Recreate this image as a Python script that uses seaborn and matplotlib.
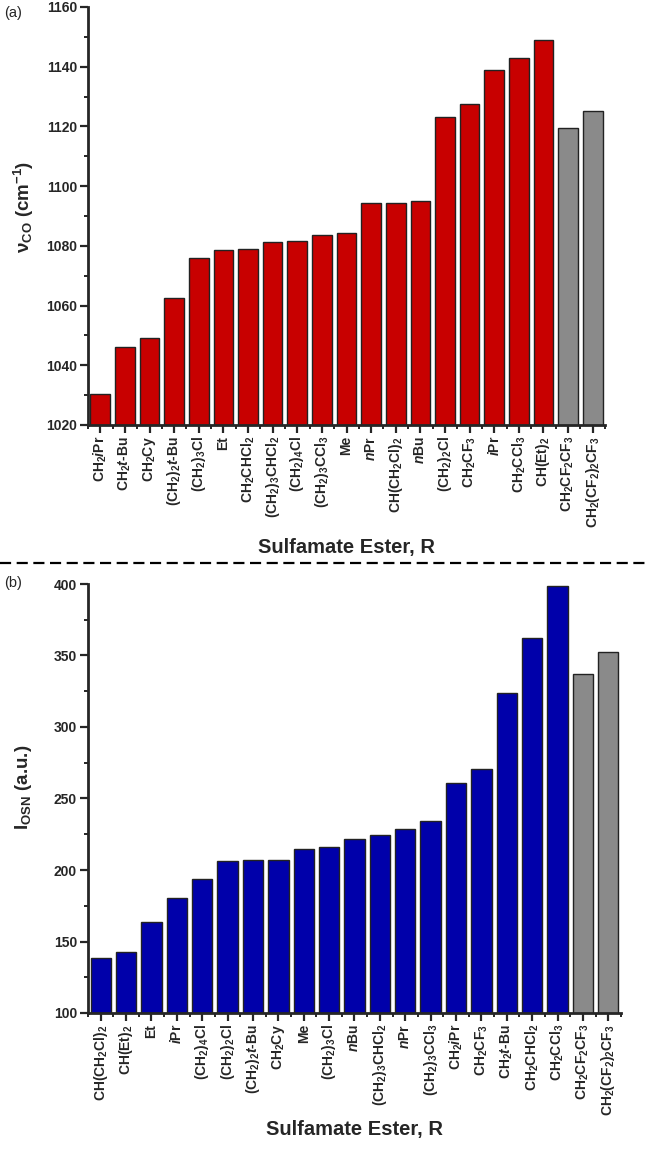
import numpy as np
import matplotlib
matplotlib.use("Agg")
import matplotlib.pyplot as plt
from matplotlib.lines import Line2D
from matplotlib.ticker import MultipleLocator, FixedLocator
import seaborn as sns

# data
top_labels = [r"CH$_2$$i$Pr", r"CH$_2$$t$-Bu", r"CH$_2$Cy", r"(CH$_2$)$_2$$t$-Bu",
              r"(CH$_2$)$_3$Cl", "Et", r"CH$_2$CHCl$_2$", r"(CH$_2$)$_3$CHCl$_2$",
              r"(CH$_2$)$_4$Cl", r"(CH$_2$)$_3$CCl$_3$", "Me", r"$n$Pr",
              r"CH(CH$_2$Cl)$_2$", r"$n$Bu", r"(CH$_2$)$_2$Cl", r"CH$_2$CF$_3$",
              r"$i$Pr", r"CH$_2$CCl$_3$", r"CH(Et)$_2$", r"CH$_2$CF$_2$CF$_3$",
              r"CH$_2$(CF$_2$)$_2$CF$_3$"]
top_values = [1030.3, 1046.0, 1049.0, 1062.4, 1076.0, 1078.7, 1078.9, 1081.3,
              1081.6, 1083.8, 1084.3, 1094.2, 1094.2, 1095.0, 1123.0, 1127.4,
              1138.8, 1143.0, 1148.8, 1119.6, 1125.1]

bot_labels = [r"CH(CH$_2$Cl)$_2$", r"CH(Et)$_2$", "Et", r"$i$Pr", r"(CH$_2$)$_4$Cl",
              r"(CH$_2$)$_2$Cl", r"(CH$_2$)$_2$$t$-Bu", r"CH$_2$Cy", "Me",
              r"(CH$_2$)$_3$Cl", r"$n$Bu", r"(CH$_2$)$_3$CHCl$_2$", r"$n$Pr",
              r"(CH$_2$)$_3$CCl$_3$", r"CH$_2$$i$Pr", r"CH$_2$CF$_3$", r"CH$_2$$t$-Bu",
              r"CH$_2$CHCl$_2$", r"CH$_2$CCl$_3$", r"CH$_2$CF$_2$CF$_3$",
              r"CH$_2$(CF$_2$)$_2$CF$_3$"]
bot_values = [138.5, 142.7, 163.6, 180.5, 193.9, 206.0, 207.0, 207.3, 214.8,
              216.2, 221.5, 224.2, 228.6, 234.5, 260.6, 270.6, 323.8, 362.2,
              398.3, 337.0, 352.5]

red = "#c80000"
blue = "#0000aa"
grey = "#8a8a8a"

sns.set_style("ticks")
plt.rcParams["font.family"] = ["Liberation Sans", "DejaVu Sans"]
plt.rcParams["mathtext.fontset"] = "custom"
plt.rcParams["mathtext.rm"] = "Liberation Sans:bold"
plt.rcParams["mathtext.it"] = "Liberation Sans:bold:italic"
plt.rcParams["mathtext.bf"] = "Liberation Sans:bold"

W, H = 650, 1150
fig = plt.figure(figsize=(6.5, 11.5), dpi=100)
ax1 = fig.add_axes([88 / W, 1 - 425 / H, (605 - 88) / W, (425 - 7) / H])
ax2 = fig.add_axes([88 / W, 1 - 1013 / H, (621 - 88) / W, (1013 - 584) / H])


def draw(ax, labels, values, color, ylim, major, minor):
    pal = [color] * (len(labels) - 2) + [grey, grey]
    sns.barplot(x=labels, y=values, hue=labels, palette=pal, legend=False,
                width=0.8, saturation=1, edgecolor="#222222", linewidth=1, ax=ax)
    ax.set_ylim(*ylim)
    ax.set_xlim(-0.5, len(labels) - 0.5)
    ax.yaxis.set_major_locator(MultipleLocator(major))
    ax.yaxis.set_minor_locator(MultipleLocator(minor))
    ax.xaxis.set_minor_locator(FixedLocator(np.arange(-0.5, len(labels), 1)))
    for s in ["top", "right"]:
        ax.spines[s].set_visible(False)
    for s in ["left", "bottom"]:
        ax.spines[s].set_linewidth(2)
    ax.tick_params(which="major", direction="out", length=6, width=1.6, pad=2)
    ax.tick_params(which="minor", direction="out", length=3, width=1.4)
    ax.tick_params(axis="x", labelrotation=90, labelsize=10)
    ax.tick_params(axis="y", labelsize=10)
    for t in ax.get_yticklabels():
        t.set_fontweight("bold")
    for t in ax.get_xticklabels():
        t.set_fontweight("bold")
    ax.set_ylabel("")
    ax.set_xlabel("Sulfamate Ester, R", fontsize=14.5, fontweight="bold")


draw(ax1, top_labels, top_values, red, (1020, 1160), 20, 10)
draw(ax2, bot_labels, bot_values, blue, (100, 400), 50, 25)
ax1.xaxis.set_label_coords(0.5, -(547 - 425) / (425 - 7))
ax2.xaxis.set_label_coords(0.5, -(1130 - 1013) / (1013 - 584))
ax1.xaxis.label.set_va("center")
ax2.xaxis.label.set_va("center")

fig.text(24 / W, 1 - 207 / H, "ν$_{\\mathrm{CO}}$ (cm$^{\\mathrm{-1}}$)", rotation=90,
         ha="center", va="center", fontsize=13.5, fontweight="bold")
fig.text(24 / W, 1 - 787 / H, "I$_{\\mathrm{OSN}}$ (a.u.)", rotation=90,
         ha="center", va="center", fontsize=13.5, fontweight="bold")

fig.text(4 / W, 1 - 13 / H, "(a)", ha="left", va="center", fontsize=10.5)
fig.text(4 / W, 1 - 583 / H, "(b)", ha="left", va="center", fontsize=10.5)

fig.add_artist(Line2D([0, 1], [1 - 563 / H, 1 - 563 / H], color="black",
                      linewidth=1.6, linestyle=(0, (5, 2.5))))

fig.savefig("out.png", dpi=100)
